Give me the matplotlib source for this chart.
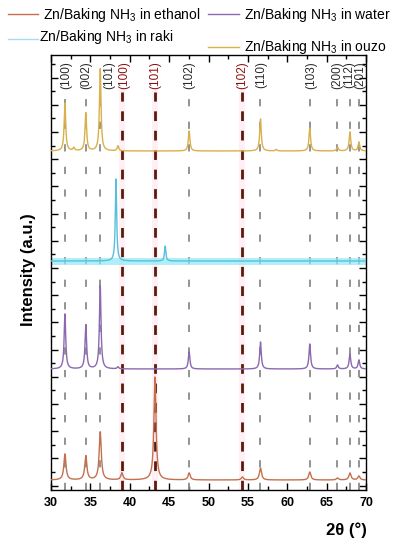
import numpy as np
import matplotlib
matplotlib.use("Agg")
import matplotlib.pyplot as plt
from matplotlib.lines import Line2D
from matplotlib.ticker import MultipleLocator

plt.rcParams['font.family'] = ['Liberation Sans', 'DejaVu Sans']
plt.rcParams['mathtext.fontset'] = 'custom'
plt.rcParams['mathtext.rm'] = 'Liberation Sans'

# ---- reference lines ----
zno_pos = [31.77, 34.42, 36.25, 47.54, 56.60, 62.86, 66.38, 67.96, 69.10]
zno_labels = ['(100)', '(002)', '(101)', '(102)', '(110)', '(103)', '(200)', '(112)', '(201)']
zno_label_x = [31.9, 34.5, 37.4, 47.6, 56.7, 63.0, 66.4, 67.9, 69.3]
zn_pos = [39.0, 43.2, 54.3]
zn_labels = ['(100)', '(101)', '(102)']
zn_label_x = [39.3, 43.2, 54.3]

# ---- series: baselines, peak centres and heights (arbitrary units) ----
series_names = ['Zn/Baking NH$_3$ in ethanol', 'Zn/Baking NH$_3$ in water',
                'Zn/Baking NH$_3$ in raki', 'Zn/Baking NH$_3$ in ouzo']

ethanol_base = 10
ethanol_pos = [31.77, 34.42, 36.25, 39.0, 43.2, 47.54, 54.3, 56.6, 62.86, 66.38, 67.96, 69.1]
ethanol_h = [26, 24, 48, 7, 103, 7, 3, 12, 8, 2, 7, 4]

water_base = 121
water_pos = [31.77, 34.42, 36.25, 38.5, 47.54, 56.6, 62.86, 66.38, 67.96, 69.1]
water_h = [55, 44, 83, 2, 17, 27, 25, 4, 15, 9]

raki_base = 229
raki_pos = [38.25, 44.5]
raki_h = [82, 15]

ouzo_base = 339
ouzo_pos = [31.77, 32.9, 34.42, 36.25, 38.5, 47.54, 56.6, 58.6, 62.86, 66.38, 67.96, 69.1]
ouzo_h = [48, 3, 38, 82, 5, 20, 32, 1.5, 23, 4, 19, 9]

x = np.linspace(30, 70, 4001)


def profile(base, pos, h, w):
    y = np.full_like(x, float(base))
    for c, a in zip(pos, h):
        y += a * w**2 / ((x - c)**2 + w**2)
    return y


W, H = 397, 550
fig = plt.figure(figsize=(W / 100, H / 100), dpi=100)
ax = fig.add_axes([51 / W, 1 - 490 / H, 315 / W, 435 / H])
ax.set_xlim(30, 70)
ax.set_ylim(0, 435)

# faint pink halos around Zn lines
for p in zn_pos:
    ax.plot([p, p], [0, 398], color='#ffd6e6', lw=4.5, alpha=0.35, zorder=1)

# dashed reference lines
for p in zno_pos:
    ax.plot([p, p], [0, 400], color='#8a8a8a', lw=1.3, dashes=(4, 8.5), zorder=2)
for p in zn_pos:
    ax.plot([p, p], [0, 398], color='#5a1a0c', lw=2.0, dashes=(3.5, 3.5), zorder=2)

for lx, t in zip(zno_label_x, zno_labels):
    ax.text(lx, 429, t, rotation=90, ha='center', va='top', fontsize=8.5, color='#2a2a2a')
for lx, t in zip(zn_label_x, zn_labels):
    ax.text(lx, 429, t, rotation=90, ha='center', va='top', fontsize=8.5, color='#8b1010')

c_eth, c_wat, c_raki, c_ouzo = '#c4704e', '#8b68b0', '#55c0dc', '#d9b04a'

ax.plot(x, profile(ethanol_base, ethanol_pos, ethanol_h, 0.16), color=c_eth, lw=1.0, zorder=3)
ax.plot(x, profile(water_base, water_pos, water_h, 0.12), color=c_wat, lw=1.0, zorder=3)
ax.fill_between([30, 70], raki_base - 4, raki_base + 3.5, color='#8fe8f6', alpha=0.7, lw=0, zorder=2.5)
ax.plot(x, profile(raki_base, raki_pos, raki_h, 0.10), color=c_raki, lw=1.0, zorder=3)
ax.plot(x, profile(ouzo_base, ouzo_pos, ouzo_h, 0.12), color=c_ouzo, lw=1.0, zorder=3)

# ticks
ax.xaxis.set_major_locator(MultipleLocator(5))
ax.xaxis.set_minor_locator(MultipleLocator(2.5))
ax.set_yticks(np.arange(4.5, 435, 27.2))
ax.set_yticks(np.arange(18.1, 435, 27.2), minor=True)
ax.set_yticklabels([])
ax.tick_params(axis='both', which='major', direction='in', length=5, width=1.0,
               top=True, right=True, labelsize=9)
ax.tick_params(axis='both', which='minor', direction='in', length=3, width=1.0,
               top=True, right=True)
ax.tick_params(axis='x', pad=5)
for lab in ax.get_xticklabels():
    lab.set_fontweight('bold')
for s in ax.spines.values():
    s.set_linewidth(1.0)

fig.text(367 / W, 1 - 530 / H, '2θ (°)', ha='right', va='center', fontsize=12, fontweight='bold')
fig.text(28 / W, 1 - 270 / H, 'Intensity (a.u.)', rotation=90, ha='center', va='center',
         fontsize=12, fontweight='bold')

# legend (manual layout)
leg = [
    (8, 38, 14, 43, 15, c_eth, series_names[0]),
    (208, 239, 14, 244, 15, c_wat, series_names[1]),
    (8, 38, 39, 39, 37, '#a8dcec', series_names[2]),
    (208, 239, 47, 244, 47, c_ouzo, series_names[3]),
]
for x0, x1, ly, tx, ty, c, name in leg:
    fig.add_artist(Line2D([x0 / W, x1 / W], [1 - ly / H, 1 - ly / H], color=c, lw=1.0,
                          transform=fig.transFigure))
    fig.text(tx / W, 1 - ty / H, name, ha='left', va='center', fontsize=10)

fig.savefig('out.png', dpi=100)
